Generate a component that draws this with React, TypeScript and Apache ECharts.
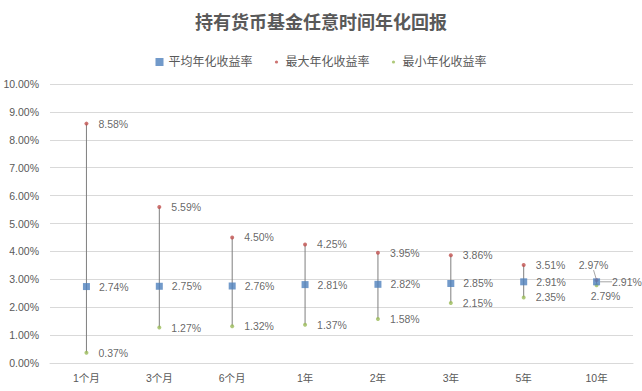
import React, { useEffect, useRef } from "react";
import * as echarts from "echarts";

const categories = ["1个月", "3个月", "6个月", "1年", "2年", "3年", "5年", "10年"];
const avgValues = [2.74, 2.75, 2.76, 2.81, 2.82, 2.85, 2.91, 2.91];
const maxValues = [8.58, 5.59, 4.5, 4.25, 3.95, 3.86, 3.51, 2.97];
const minValues = [0.37, 1.27, 1.32, 1.37, 1.58, 2.15, 2.35, 2.79];
const seriesNames = ["平均年化收益率", "最大年化收益率", "最小年化收益率"];
const titleText = "持有货币基金任意时间年化回报";

const FONT = "'Liberation Sans', 'Noto Sans CJK SC', sans-serif";
const LABEL_COLOR = "#404040";
const AXIS_COLOR = "#595959";

export default function App() {
  const ref = useRef<HTMLDivElement>(null);
  useEffect(() => {
    if (!ref.current) return;
    const chart = echarts.init(ref.current, undefined, { renderer: "svg" });
    const last = categories.length - 1;
    const fmt = (p: any) => Number(Array.isArray(p.value) ? p.value[1] : p.value).toFixed(2) + "%";
    const labelBase = {
      show: true,
      position: "right",
      color: LABEL_COLOR,
      fontSize: 10.5,
      fontFamily: FONT,
      formatter: fmt,
    };
    const guide = { show: true, lineStyle: { color: "#a6a6a6", width: 1 } };
    const dotIcon = "path://M0,0M10,10M3,5a2,2 0 1,0 4,0a2,2 0 1,0 -4,0z";
    chart.setOption({
      animation: false,
      backgroundColor: "#ffffff",
      textStyle: { fontFamily: FONT },
      title: {
        text: titleText,
        left: "center",
        top: 9,
        textStyle: { fontSize: 18, fontWeight: "bold", color: AXIS_COLOR, fontFamily: FONT },
      },
      legend: {
        top: 51,
        left: "center",
        itemWidth: 8,
        itemHeight: 8,
        itemGap: 20,
        textStyle: { fontSize: 12, color: AXIS_COLOR, fontFamily: FONT },
        data: [
          { name: seriesNames[0], icon: "rect" },
          { name: seriesNames[1], icon: dotIcon },
          { name: seriesNames[2], icon: dotIcon },
        ],
      },
      grid: { left: 50, right: 9, top: 84, bottom: 28 },
      xAxis: {
        type: "category",
        data: categories,
        axisLine: { show: true, lineStyle: { color: "#d9d9d9" } },
        axisTick: { show: false },
        axisLabel: { color: AXIS_COLOR, fontSize: 10.5, fontFamily: FONT, margin: 10 },
      },
      yAxis: {
        type: "value",
        min: 0,
        max: 10,
        interval: 1,
        axisLine: { show: false },
        axisTick: { show: false },
        splitLine: { lineStyle: { color: "#d9d9d9" } },
        axisLabel: {
          color: AXIS_COLOR,
          fontSize: 10.5,
          fontFamily: FONT,
          margin: 11,
          formatter: (v: number) => v.toFixed(2) + "%",
        },
      },
      series: [
        {
          type: "custom",
          name: "range",
          z: 1,
          silent: true,
          data: categories.map((_, i) => [i, minValues[i], maxValues[i]]),
          encode: { x: 0, y: [1, 2] },
          renderItem: (params: any, api: any) => {
            const i = api.value(0);
            const lo = api.coord([i, api.value(1)]);
            const hi = api.coord([i, api.value(2)]);
            return {
              type: "line",
              shape: { x1: lo[0], y1: lo[1], x2: hi[0], y2: hi[1] },
              style: { stroke: "#7f7f7f", lineWidth: 1 },
            };
          },
        },
        {
          type: "scatter",
          name: seriesNames[0],
          z: 3,
          symbol: "rect",
          symbolSize: 7,
          itemStyle: { color: "#4F81BD" },
          label: { ...labelBase, distance: 9 },
          labelLine: { show: false },
          labelLayout: (p: any) => (p.dataIndex === last ? { dx: 3 } : {}),
          data: avgValues.map((v, i) =>
            i === last ? { value: [i, v], labelLine: guide } : [i, v]
          ),
        },
        {
          type: "scatter",
          name: seriesNames[1],
          z: 2,
          symbolSize: 4,
          itemStyle: { color: "#C0504D" },
          label: { ...labelBase, distance: 10 },
          labelLine: { show: false },
          labelLayout: (p: any) => (p.dataIndex === last ? { dx: -3, dy: -3 } : {}),
          data: maxValues.map((v, i) =>
            i === last
              ? { value: [i, v], label: { position: "top", distance: 5 }, labelLine: guide }
              : [i, v]
          ),
        },
        {
          type: "scatter",
          name: seriesNames[2],
          z: 2,
          symbolSize: 4,
          itemStyle: { color: "#9BBB59" },
          label: { ...labelBase, distance: 10 },
          data: minValues.map((v, i) =>
            i === last
              ? { value: [i, v], label: { position: "bottom", distance: 4, offset: [9, 0] } }
              : [i, v]
          ),
        },
      ],
    });
    return () => chart.dispose();
  }, []);
  return <div ref={ref} style={{ width: 642, height: 391, position: "absolute", left: 0, top: 0 }} />;
}
